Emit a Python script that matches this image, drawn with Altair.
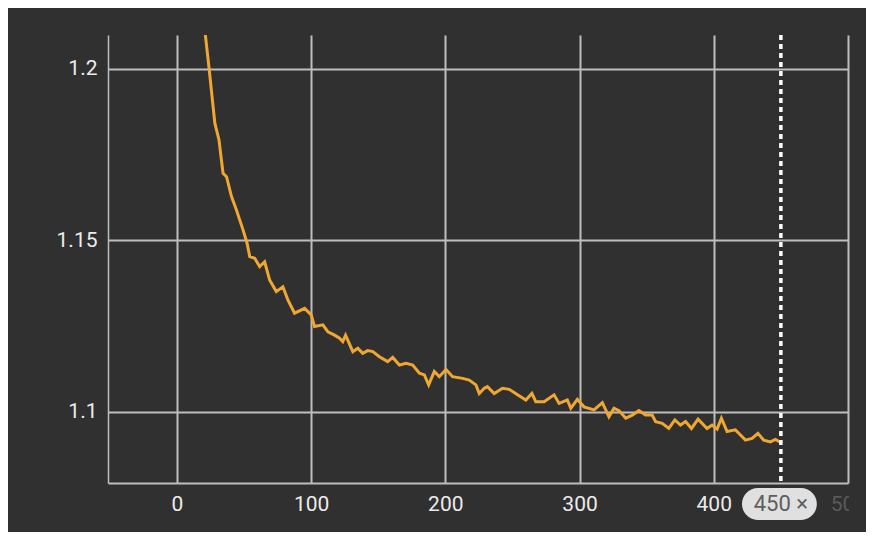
import altair as alt
import pandas as pd

# Series
x_vals = [20.8, 24.0, 28.3, 31.4, 34.4, 37.0, 40.7, 44.4, 46.8, 49.3, 52.3, 54.3, 58.0, 61.7, 65.4,
          69.1, 74.1, 79.0, 82.7, 87.7, 95.2, 100.1, 102.6, 108.8, 112.5, 117.5, 121.2, 123.6, 125.7,
          131.1, 134.8, 138.5, 142.2, 146.0, 150.9, 157.1, 160.8, 165.8, 170.8, 175.7, 180.7, 184.4,
          187.6, 191.8, 195.5, 200.5, 205.4, 212.9, 217.8, 222.8, 225.3, 229.0, 231.4, 236.4, 242.6,
          247.6, 253.8, 260.0, 264.5, 267.4, 273.6, 281.0, 284.8, 290.9, 293.5, 298.4, 303.3, 310.8,
          317.0, 321.9, 325.7, 329.4, 334.4, 339.3, 344.2, 349.2, 354.1, 356.7, 361.6, 366.5, 371.0,
          375.2, 379.0, 383.4, 388.3, 395.0, 398.7, 402.5, 405.7, 409.9, 416.1, 418.6, 423.6, 428.5,
          432.9, 437.2, 442.2, 445.9, 450.0]
y_vals = [1.2114, 1.2002, 1.1842, 1.1793, 1.1696, 1.1686, 1.1628, 1.1589, 1.1560, 1.1531, 1.1492,
          1.1453, 1.1448, 1.1424, 1.1438, 1.1385, 1.1351, 1.1365, 1.1327, 1.1288, 1.1302, 1.1283,
          1.1249, 1.1254, 1.1234, 1.1224, 1.1215, 1.1205, 1.1224, 1.1176, 1.1186, 1.1171, 1.1179,
          1.1176, 1.1161, 1.1147, 1.1159, 1.1137, 1.1142, 1.1137, 1.1113, 1.1108, 1.1079, 1.1118,
          1.1103, 1.1124, 1.1103, 1.1098, 1.1093, 1.1079, 1.1054, 1.1069, 1.1074, 1.1054, 1.1069,
          1.1066, 1.1050, 1.1035, 1.1054, 1.1030, 1.1030, 1.1050, 1.1025, 1.1035, 1.1011, 1.1037,
          1.1015, 1.1006, 1.1027, 1.0986, 1.1011, 1.1004, 1.0982, 1.0991, 1.1004, 1.0991, 1.0991,
          1.0972, 1.0967, 1.0952, 1.0977, 1.0962, 1.0972, 1.0952, 1.0979, 1.0952, 1.0962, 1.0950,
          1.0982, 1.0943, 1.0948, 1.0938, 1.0918, 1.0923, 1.0938, 1.0918, 1.0913, 1.0920, 1.0911]

x_ticks = [0, 100, 200, 300, 400, 500]
y_ticks = [1.1, 1.15, 1.2]
x_domain = [-51.3, 500]
y_domain = [1.0793, 1.2099]
marker_x = 450
badge_span = [421.0, 476.8]
badge_text = "450 ×"

BG = "#303030"
GRID = "#bdbdbd"
FONT = "Roboto"
FS = 21
W, H = 740, 448

df = pd.DataFrame({"step": x_vals, "value": y_vals})

xs = alt.Scale(domain=x_domain, nice=False, zero=False)
ys = alt.Scale(domain=y_domain, nice=False, zero=False)

x_axis = alt.Axis(
    values=x_ticks, title=None, grid=True, gridColor=GRID, gridWidth=2,
    ticks=False, domain=True, domainColor=GRID, domainWidth=2,
    labelFont=FONT, labelFontSize=FS, labelPadding=10,
    labelFlush=False, labelOverlap=False,
    labelColor=alt.condition("datum.value == 500", alt.value("#5a5a5a"), alt.value("#ececec")))
y_axis = alt.Axis(
    values=y_ticks, title=None, grid=True, gridColor=GRID, gridWidth=2,
    ticks=False, domain=True, domainColor=GRID, domainWidth=1.5,
    labelFont=FONT, labelFontSize=FS, labelColor="#ececec", labelPadding=11,
    labelExpr="format(datum.value, '.2~f')")

line = alt.Chart(df).mark_line(color="#f0a732", strokeWidth=3, clip=True).encode(
    x=alt.X("step:Q", scale=xs, axis=x_axis),
    y=alt.Y("value:Q", scale=ys, axis=y_axis),
)

rule = alt.Chart(pd.DataFrame({"m": [marker_x]})).mark_rule(
    color="white", strokeWidth=3.5, strokeDash=[5, 4]).encode(
    x=alt.X("m:Q", scale=xs))

# hide the part of the "500" label that falls past the plot's right edge
mask = alt.Chart(pd.DataFrame({"a": [x_domain[1]]})).mark_rect(color=BG, clip=False).encode(
    x=alt.X("a:Q", scale=xs), xOffset=alt.value(1),
    x2=alt.value(W + 40), y=alt.value(H + 3), y2=alt.value(H + 45))

badge = alt.Chart(pd.DataFrame({"a": [badge_span[0]], "b": [badge_span[1]]})).mark_rect(
    color="#e0e0e0", cornerRadius=16, clip=False).encode(
    x=alt.X("a:Q", scale=xs), x2="b:Q", y=alt.value(H + 5), y2=alt.value(H + 37))

badge_t = alt.Chart(pd.DataFrame({"m": [marker_x], "t": [badge_text]})).mark_text(
    font=FONT, fontSize=22, color="#5e5e5e", baseline="middle", align="center", clip=False).encode(
    x=alt.X("m:Q", scale=xs), y=alt.value(H + 21), text="t:N")

chart = alt.layer(line, rule, mask, badge, badge_t).properties(
    width=W, height=H, background=BG,
    padding={"left": 100, "top": 27, "right": 18, "bottom": 49},
    autosize=alt.AutoSizeParams(type="none"),
).configure_view(strokeWidth=0)

chart.save("out.html", embed_options={"renderer": "svg", "actions": False})
